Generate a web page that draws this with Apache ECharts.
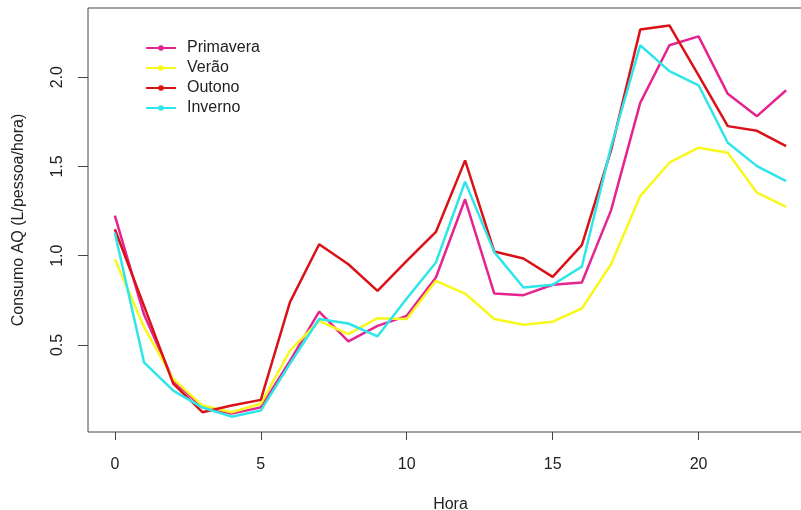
<!DOCTYPE html>
<html>
<head>
<meta charset="utf-8">
<script src="https://cdn.jsdelivr.net/npm/echarts@6/dist/echarts.min.js"></script>
<style>html,body{margin:0;padding:0;background:#fff;}#c{width:801px;height:510px;}</style>
</head>
<body>
<div id="c"></div>
<script>
var hours = [0,1,2,3,4,5,6,7,8,9,10,11,12,13,14,15,16,17,18,19,20,21,22,23];
var primavera = [1.225,0.67,0.30,0.15,0.115,0.15,0.41,0.686,0.52,0.607,0.663,0.878,1.316,0.788,0.779,0.837,0.85,1.254,1.856,2.179,2.229,1.907,1.782,1.927];
var verao     = [0.98,0.60,0.31,0.16,0.123,0.17,0.468,0.635,0.56,0.65,0.645,0.859,0.788,0.645,0.613,0.63,0.704,0.952,1.334,1.521,1.605,1.577,1.353,1.273];
var outono    = [1.148,0.719,0.283,0.123,0.16,0.192,0.74,1.064,0.952,0.803,0.971,1.133,1.534,1.023,0.984,0.881,1.059,1.59,2.267,2.29,2.01,1.726,1.70,1.614];
var inverno   = [1.129,0.402,0.244,0.149,0.098,0.132,0.395,0.645,0.62,0.548,0.76,0.962,1.415,1.02,0.822,0.837,0.939,1.61,2.179,2.034,1.955,1.633,1.502,1.418];
var seriesNames = ['Primavera','Verão','Outono','Inverno'];
var seriesColors = ['#E6248F','#F8F81C','#DA1218','#2EE6EA'];
var xTicks = [0,5,10,15,20];
var yTicks = [0.5,1.0,1.5,2.0];

var allData = [primavera, verao, outono, inverno];
var font = '"Liberation Sans", Arial, sans-serif';
var chart = echarts.init(document.getElementById('c'));
chart.setOption({
  animation: false,
  backgroundColor: '#fff',
  textStyle: {fontFamily: font},
  grid: {left: 88, top: 8, right: -12, bottom: 78, show: true, borderColor: '#444', borderWidth: 1,
    backgroundColor: 'transparent', containLabel: false, outerBoundsMode: 'none'},
  legend: {
    orient: 'vertical', left: 140, top: 35,
    itemWidth: 30, itemHeight: 7, itemGap: 4,
    textStyle: {fontFamily: font, fontSize: 16, color: '#222', lineHeight: 16, padding: [0,0,0,6]},
    data: seriesNames
  },
  xAxis: {
    type: 'value', min: -0.92, max: 23.92,
    name: 'Hora', nameLocation: 'middle', nameGap: 65,
    nameTextStyle: {fontFamily: font, fontSize: 16, color: '#222'},
    axisLine: {show: false, onZero: false},
    axisTick: {show: true, length: 8, customValues: xTicks, lineStyle: {color: '#444'}},
    axisLabel: {customValues: xTicks, fontFamily: font, fontSize: 16, color: '#222', margin: 25},
    splitLine: {show: false}
  },
  yAxis: {
    type: 'value', min: 0.012, max: 2.388,
    name: 'Consumo AQ (L/pessoa/hora)', nameLocation: 'middle', nameGap: 61,
    nameTextStyle: {fontFamily: font, fontSize: 16, color: '#222'},
    axisLine: {show: false, onZero: false},
    axisTick: {show: true, length: 10, customValues: yTicks, lineStyle: {color: '#444'}},
    axisLabel: {customValues: yTicks, rotate: 90, fontFamily: font, fontSize: 16, color: '#222', margin: 22,
      formatter: function(v){ return v.toFixed(1); }},
    splitLine: {show: false}
  },
  series: seriesNames.map(function(n, i){
    return {
      name: n, type: 'line', symbol: 'circle', symbolSize: 6, showSymbol: false,
      color: seriesColors[i],
      lineStyle: {width: 2.5, color: seriesColors[i]},
      data: hours.map(function(h, j){ return [h, allData[i][j]]; })
    };
  })
});
</script>
</body>
</html>
